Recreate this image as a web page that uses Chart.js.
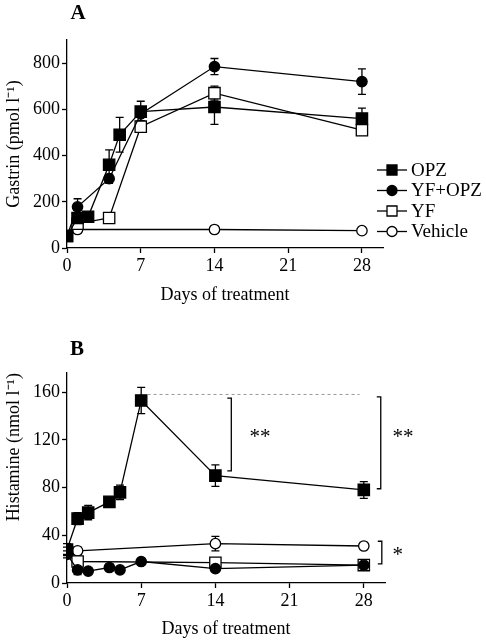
<!DOCTYPE html>
<html>
<head>
<meta charset="utf-8">
<script src="https://cdn.jsdelivr.net/npm/chart.js"></script>
<style>
body { margin: 0; background: #fff; }
canvas { display: block; }
</style>
</head>
<body>
<canvas id="chartA" width="486" height="320"></canvas>
<canvas id="chartB" width="486" height="320"></canvas>
<script>
const days = [0, 1, 2, 4, 5, 7, 14, 28];
const xTicks = [0, 7, 14, 21, 28];
const seriesNames = ['OPZ', 'YF+OPZ', 'YF', 'Vehicle'];

// panel A - gastrin (pmol/l), null = not measured that day
const opzA = [52, 130, 135, 360, 490, 590, 610, 560];
const opzAErr = [0, 15, 10, 65, 75, 45, 75, 45];
const yfOpzA = [52, 178, null, 300, null, 580, 785, 720];
const yfOpzAErr = [0, 35, null, 20, null, 30, 35, 55];
const yfA = [52, 105, null, 130, null, 525, 670, 510];
const yfAErr = [0, 15, null, 0, null, 25, 30, 20];
const vehA = [52, 80, null, null, null, null, 80, 75];
const vehAErr = [0, 0, null, null, null, null, 0, 0];
const yTicksA = [0, 200, 400, 600, 800];

// panel B - histamine (nmol/l)
const opzB = [28, 54, 59, 68, 76, 153, 90, 78];
const opzBErr = [5, 5, 6, 4, 6, 11, 9, 7];
const yfOpzB = [24, 11, 10, 13, 11, 18, 12, 15];
const yfOpzBErr = [3, 4, 0, 0, 0, 0, 2, 2];
const yfB = [26, 18, null, null, null, null, 17, 15];
const yfBErr = [0, 2, null, null, null, null, 2, 1];
const vehB = [27, 27, null, null, null, null, 33, 31];
const vehBErr = [3, 3, null, null, null, null, 6, 2];
const yTicksB = [0, 40, 80, 120, 160];

const serif = "'Liberation Serif', 'Times New Roman', serif";
const styles = [
  { shape: 'rect', filled: true },
  { shape: 'circle', filled: true },
  { shape: 'rect', filled: false },
  { shape: 'circle', filled: false }
];

function points(values, errors) {
  const pts = [];
  days.forEach((d, i) => {
    if (values[i] !== null) pts.push({ x: d, y: values[i], e: errors[i] });
  });
  return pts;
}

function makeSet(i, values, errors) {
  const st = styles[i];
  const r = st.shape === 'rect' ? 8 : 5.2;
  return {
    label: seriesNames[i],
    data: points(values, errors),
    borderColor: '#000',
    borderWidth: 1.3,
    pointStyle: st.shape,
    pointRadius: r,
    pointHoverRadius: r,
    pointBackgroundColor: st.filled ? '#000' : '#fff',
    pointBorderColor: '#000',
    pointBorderWidth: 1.3,
    tension: 0,
    fill: false
  };
}

function drawMarker(ctx, x, y, st) {
  ctx.beginPath();
  if (st.shape === 'rect') ctx.rect(x - 5, y - 5, 10, 10);
  else ctx.arc(x, y, 5, 0, Math.PI * 2);
  ctx.fillStyle = st.filled ? '#000' : '#fff';
  ctx.fill();
  ctx.lineWidth = 1.3;
  ctx.strokeStyle = '#000';
  ctx.stroke();
}

// vertical error bars with caps, read through the scales
const errorBars = {
  id: 'errorBars',
  beforeDatasetsDraw(chart) {
    const ctx = chart.ctx, xs = chart.scales.x, ys = chart.scales.y;
    ctx.save();
    ctx.strokeStyle = '#000';
    ctx.lineWidth = 1.3;
    chart.data.datasets.forEach(ds => {
      ds.data.forEach(p => {
        if (!p.e) return;
        const x = xs.getPixelForValue(p.x);
        const y1 = ys.getPixelForValue(p.y + p.e);
        const y2 = ys.getPixelForValue(p.y - p.e);
        ctx.beginPath();
        ctx.moveTo(x, y1); ctx.lineTo(x, y2);
        ctx.moveTo(x - 4, y1); ctx.lineTo(x + 4, y1);
        ctx.moveTo(x - 4, y2); ctx.lineTo(x + 4, y2);
        ctx.stroke();
      });
    });
    ctx.restore();
  }
};

const panelLetter = {
  id: 'panelLetter',
  afterDraw(chart, args, opts) {
    const ctx = chart.ctx;
    ctx.save();
    ctx.font = 'bold 21px ' + serif;
    ctx.fillStyle = '#000';
    ctx.textAlign = 'center';
    ctx.textBaseline = 'middle';
    ctx.fillText(opts.text, opts.x, opts.y);
    ctx.restore();
  }
};

const legendA = {
  id: 'legendA',
  afterDraw(chart) {
    const ctx = chart.ctx;
    ctx.save();
    ctx.font = '19px ' + serif;
    ctx.textBaseline = 'middle';
    seriesNames.forEach((name, i) => {
      const y = 170 + i * 20.5;
      ctx.beginPath();
      ctx.moveTo(377, y); ctx.lineTo(407, y);
      ctx.strokeStyle = '#000';
      ctx.lineWidth = 1.3;
      ctx.stroke();
      drawMarker(ctx, 392, y, styles[i]);
      ctx.fillStyle = '#000';
      ctx.fillText(name, 411, y + 1);
    });
    ctx.restore();
  }
};

// significance brackets for panel B
const bracketsB = {
  id: 'bracketsB',
  afterDatasetsDraw(chart) {
    const ctx = chart.ctx, xs = chart.scales.x, ys = chart.scales.y;
    ctx.save();
    ctx.strokeStyle = '#999';
    ctx.lineWidth = 1;
    ctx.setLineDash([3, 3]);
    ctx.beginPath();
    ctx.moveTo(xs.getPixelForValue(7.6), ys.getPixelForValue(158));
    ctx.lineTo(xs.getPixelForValue(27.6), ys.getPixelForValue(158));
    ctx.stroke();
    ctx.setLineDash([]);
    ctx.strokeStyle = '#000';
    ctx.lineWidth = 1.3;
    ctx.fillStyle = '#000';
    ctx.font = '21px ' + serif;
    ctx.textAlign = 'center';
    ctx.textBaseline = 'middle';
    const marks = [
      { day: 15.5, from: 155, to: 94, text: '**', tx: 18.2, ty: 122 },
      { day: 29.6, from: 156, to: 79, text: '**', tx: 31.7, ty: 122 },
      { day: 29.7, from: 35, to: 16, text: '*', tx: 31.2, ty: 23 }
    ];
    marks.forEach(m => {
      const x = xs.getPixelForValue(m.day);
      const y1 = ys.getPixelForValue(m.from);
      const y2 = ys.getPixelForValue(m.to);
      ctx.beginPath();
      ctx.moveTo(x - 4, y1); ctx.lineTo(x, y1); ctx.lineTo(x, y2); ctx.lineTo(x - 4, y2);
      ctx.stroke();
      ctx.fillText(m.text, xs.getPixelForValue(m.tx), ys.getPixelForValue(m.ty));
    });
    ctx.restore();
  }
};

function axes(yMax, yTicks, yTitle, yAlign, xHeight, xTitlePad) {
  const font = { family: serif, size: 18 };
  return {
    x: {
      type: 'linear', min: 0, max: 30,
      afterBuildTicks: s => { s.ticks = xTicks.map(v => ({ value: v })); },
      afterFit: s => { s.height = xHeight; },
      grid: { drawOnChartArea: false, color: '#000', tickLength: 5, tickWidth: 1.3 },
      border: { color: '#000', width: 1.3 },
      ticks: { color: '#000', font: font, padding: 2, maxRotation: 0 },
      title: { display: true, text: 'Days of treatment', color: '#000', font: font,
               padding: { top: 0, bottom: xTitlePad } }
    },
    y: {
      min: 0, max: yMax,
      afterBuildTicks: s => { s.ticks = yTicks.map(v => ({ value: v })); },
      afterFit: s => { s.width = 67; },
      grid: { drawOnChartArea: false, color: '#000', tickLength: 5, tickWidth: 1.3 },
      border: { color: '#000', width: 1.3 },
      ticks: { color: '#000', font: font, padding: 2 },
      title: { display: true, text: yTitle, color: '#000', font: font, align: yAlign,
               padding: { top: 3, bottom: 0 } }
    }
  };
}

new Chart(document.getElementById('chartA'), {
  type: 'line',
  data: {
    datasets: [
      makeSet(0, opzA, opzAErr),
      makeSet(1, yfOpzA, yfOpzAErr),
      makeSet(2, yfA, yfAErr),
      makeSet(3, vehA, vehAErr)
    ]
  },
  options: {
    responsive: false,
    animation: false,
    layout: { padding: { top: 40, right: 103, left: 0, bottom: 0 } },
    scales: axes(900, yTicksA, 'Gastrin (pmol l\u207B\u00B9)', 'center', 72, 14),
    plugins: {
      legend: { display: false },
      tooltip: { enabled: false },
      panelLetter: { text: 'A', x: 78, y: 14 }
    }
  },
  plugins: [errorBars, panelLetter, legendA]
});

new Chart(document.getElementById('chartB'), {
  type: 'line',
  data: {
    datasets: [
      makeSet(0, opzB, opzBErr),
      makeSet(1, yfOpzB, yfOpzBErr),
      makeSet(2, yfB, yfBErr),
      makeSet(3, vehB, vehBErr)
    ]
  },
  options: {
    responsive: false,
    animation: false,
    layout: { padding: { top: 53, right: 101, left: 0, bottom: 0 } },
    scales: axes(176, yTicksB, 'Histamine (nmol l\u207B\u00B9)', 'end', 57, 0),
    plugins: {
      legend: { display: false },
      tooltip: { enabled: false },
      panelLetter: { text: 'B', x: 77, y: 30 }
    }
  },
  plugins: [errorBars, panelLetter, bracketsB]
});
</script>
</body>
</html>
